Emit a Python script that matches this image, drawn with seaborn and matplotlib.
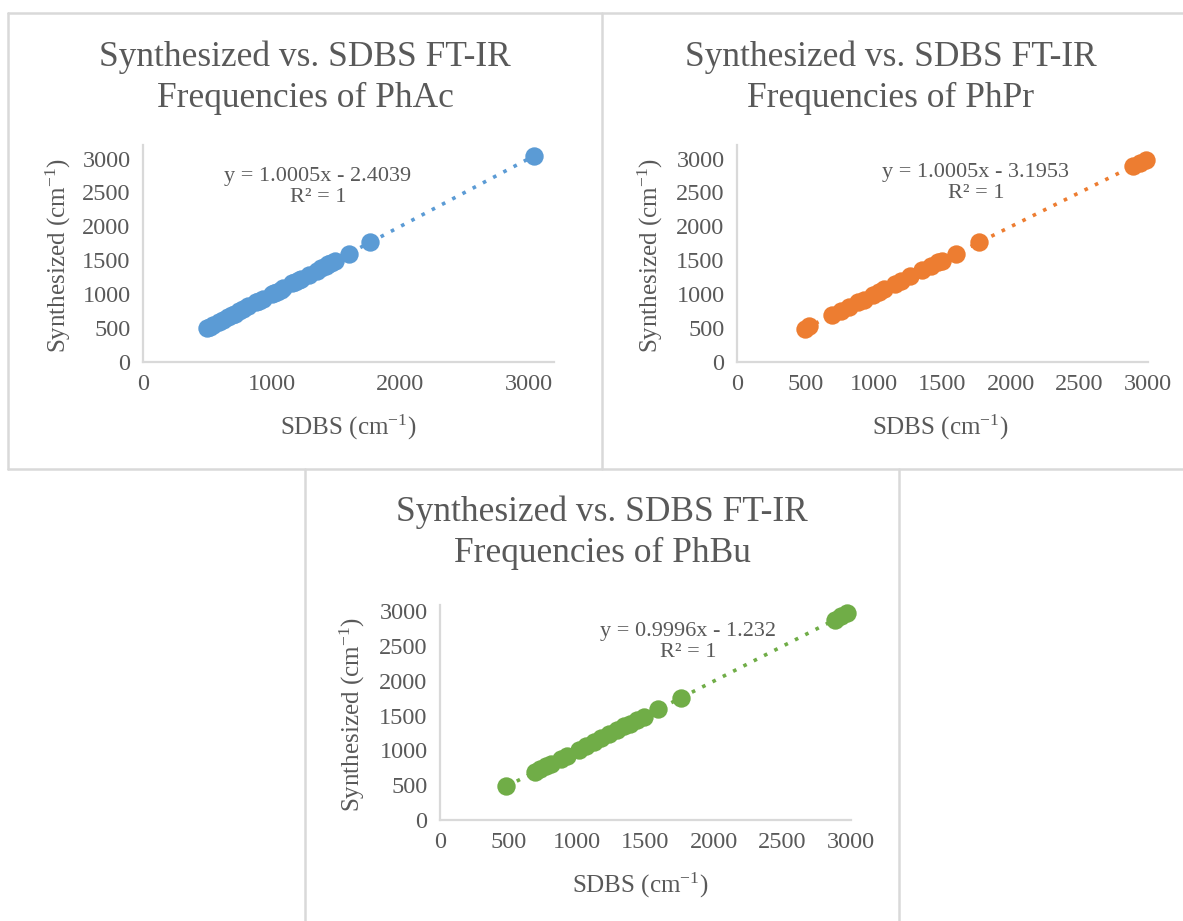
import numpy as np
import pandas as pd
import seaborn as sns
import matplotlib
matplotlib.use("Agg")
import matplotlib.pyplot as plt
from matplotlib.lines import Line2D

sns.set_theme(style="white")
plt.rcParams['font.family'] = ['Liberation Serif', 'DejaVu Serif']
plt.rcParams['mathtext.fontset'] = 'custom'
plt.rcParams['mathtext.rm'] = 'Liberation Serif'
plt.rcParams['mathtext.it'] = 'Liberation Serif:italic'

# ---- data ----
phac_sdbs = [497, 520, 548, 590, 620, 660, 690, 715, 750, 780, 820, 880, 905, 930,
             1000, 1020, 1040, 1070, 1090, 1160, 1180, 1210, 1230, 1290, 1350, 1380,
             1420, 1440, 1460, 1490, 1600, 1765, 3040]
phac_syn = [495, 518, 546, 589, 619, 659, 688, 714, 749, 779, 819, 879, 904, 929,
            999, 1018, 1038, 1069, 1089, 1158, 1179, 1209, 1229, 1289, 1349, 1379,
            1419, 1439, 1459, 1489, 1599, 1764, 3039]

phpr_sdbs = [496, 529, 693, 760, 815, 884, 924, 993, 1034, 1074, 1156, 1197, 1265,
             1353, 1415, 1470, 1497, 1598, 1770, 2888, 2943, 2983]
phpr_syn = [493, 526, 690, 757, 812, 881, 921, 990, 1032, 1072, 1154, 1195, 1263,
            1350, 1412, 1468, 1495, 1596, 1768, 2886, 2941, 2982]

phbu_sdbs = [485, 692, 729, 771, 813, 883, 925, 1015, 1065, 1121, 1177, 1234, 1290,
             1346, 1388, 1435, 1486, 1592, 1761, 2882, 2930, 2972]
phbu_syn = [484, 690, 727, 769, 811, 881, 923, 1013, 1063, 1119, 1175, 1232, 1288,
            1344, 1386, 1433, 1484, 1590, 1759, 2879, 2927, 2969]

titles = ["Synthesized vs. SDBS FT-IR\nFrequencies of PhAc",
          "Synthesized vs. SDBS FT-IR\nFrequencies of PhPr",
          "Synthesized vs. SDBS FT-IR\nFrequencies of PhBu"]
equations = ["y = 1.0005x - 2.4039\nR² = 1",
             "y = 1.0005x - 3.1953\nR² = 1",
             "y = 0.9996x - 1.232\nR² = 1"]
colors = ["#5B9BD5", "#ED7D31", "#70AD47"]
x_steps = [1000, 500, 500]
y_ticks = [0, 500, 1000, 1500, 2000, 2500, 3000]

W, H = 1183, 921
fig = plt.figure(figsize=(W / 100, H / 100), dpi=100)
fig.patch.set_facecolor("white")

def fx(px):
    return px / W

def fy(py):
    return 1 - py / H

# axes rectangles in pixel coords: left, right, top, bottom
boxes = [(143, 554, 145, 362), (737, 1148, 145, 362), (440, 851, 605, 820)]
xmaxs = [3195, 3000, 3000]
ymaxs = [3200, 3200, 3090]

title_pos = [(305, 58), (891, 58), (602, 513)]
eq_pos = [(318, 187), (976, 183), (688, 642)]
ylabel_x = [58, 650, 352]
xlabel_pos = [(348, 427), (940, 427), (640, 885)]

datasets = [(phac_sdbs, phac_syn), (phpr_sdbs, phpr_syn), (phbu_sdbs, phbu_syn)]
text_color = "#595959"
axis_color = "#D9D9D9"

for i in range(3):
    l, r, t, b = boxes[i]
    ax = fig.add_axes([fx(l), fy(b), fx(r) - fx(l), fy(t) - fy(b)])
    df = pd.DataFrame({"SDBS": datasets[i][0], "Synthesized": datasets[i][1]})
    sns.regplot(data=df, x="SDBS", y="Synthesized", ax=ax, ci=None, truncate=True,
                color=colors[i],
                scatter_kws=dict(s=175, alpha=1, linewidths=0, zorder=3),
                line_kws=dict(linestyle=(0, (1, 2.2)), linewidth=2.6, zorder=2))
    ax.set_xlim(0, xmaxs[i])
    ax.set_ylim(0, ymaxs[i])
    ax.set_xticks(np.arange(0, 3001, x_steps[i]))
    ax.set_yticks(y_ticks)
    ax.tick_params(axis='both', length=0, labelsize=17.5, labelcolor=text_color, pad=9)
    ax.set_xlabel("")
    ax.set_ylabel("")
    for side in ["top", "right"]:
        ax.spines[side].set_visible(False)
    for side in ["left", "bottom"]:
        ax.spines[side].set_color(axis_color)
        ax.spines[side].set_linewidth(1.6)
    ax.set_facecolor("none")
    ax.grid(False)
    for sp in ax.collections:
        sp.set_clip_on(False)

    tx, ty = title_pos[i]
    fig.text(fx(tx), fy(ty + 19.5), titles[i], ha="center", va="center",
             fontsize=25.5, color=text_color, linespacing=1.32)
    ex, ey = eq_pos[i]
    fig.text(fx(ex), fy(ey), equations[i], ha="center", va="center",
             fontsize=16, color=text_color, linespacing=1.2)
    fig.text(fx(ylabel_x[i]), fy((t + b) / 2 + 2), "Synthesized (cm$^{-1}$)",
             rotation=90, ha="center", va="center", fontsize=18, color=text_color)
    lx, ly = xlabel_pos[i]
    fig.text(fx(lx), fy(ly), "SDBS (cm$^{-1}$)", ha="center", va="center",
             fontsize=18, color=text_color)

# panel borders
border = dict(color="#D9D9D9", linewidth=1.8)
segments = [((8, 13), (1183, 13)), ((8, 13), (8, 469)), ((602, 13), (602, 469)),
            ((8, 469), (1183, 469)), ((305, 469), (305, 921)), ((899, 469), (899, 921))]
for (x0, y0), (x1, y1) in segments:
    fig.add_artist(Line2D([fx(x0), fx(x1)], [fy(y0), fy(y1)], **border))

fig.savefig("out.png", dpi=100, facecolor="white")
